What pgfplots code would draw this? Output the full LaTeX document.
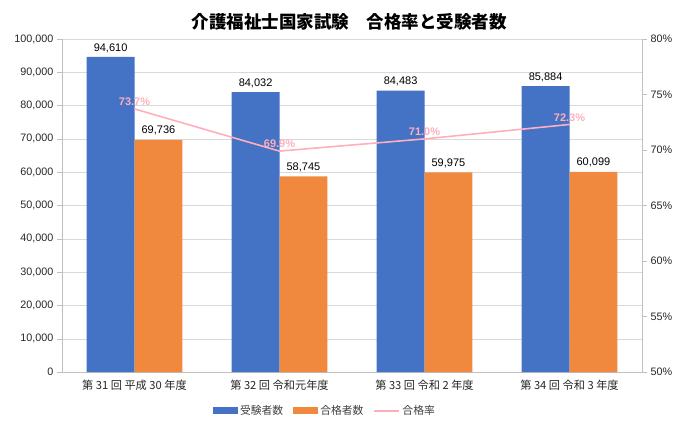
\documentclass[border=0pt]{standalone}
\usepackage{pgfplots}
\pgfplotsset{compat=1.18}
\usepackage{fontspec}
\setmainfont{Liberation Sans}
\newfontfamily\cjk{Noto Sans CJK JP}

\definecolor{cblue}{HTML}{4472C4}
\definecolor{corange}{HTML}{F0883E}
\definecolor{cpink}{HTML}{FFAEBC}
\definecolor{cgrid}{HTML}{D9D9D9}
\definecolor{caxis}{HTML}{BFBFBF}

\pgfplotsset{
  barlegend/.style={legend image code/.code={\fill[##1] (0pt,-3.5pt) rectangle (25pt,3.5pt);}},
  linelegend/.style={legend image code/.code={\draw[##1] (0pt,0pt) -- (25pt,0pt);}},
  common/.style={
    width=580pt, height=333pt, scale only axis,
    at={(62pt,59pt)}, anchor=south west,
    xmin=-0.5, xmax=3.5,
    tick label style={font=\fontsize{10.8}{13}\selectfont, text=black!85},
    major tick length=5pt,
    tick style={caxis, thin},
  },
}

\begin{document}
\begin{tikzpicture}[x=1pt,y=1pt]
\useasboundingbox (0,0) rectangle (698,431);

\begin{axis}[
  common,
  ybar=0pt, bar width=0.33,
  ymin=0, ymax=100000, ytick={0,10000,...,100000},
  scaled y ticks=false,
  /pgf/number format/fixed,
  /pgf/number format/precision=0,
  /pgf/number format/1000 sep={,},
  /pgf/number format/assume math mode=true,
  axis y line*=left,
  axis x line*=bottom,
  axis line style={caxis},
  y axis line style={-}, x axis line style={-},
  tick align=outside,
  ymajorgrids, grid style={cgrid},
  xtick={0,1,2,3},
  xticklabels={{\cjk 第 31 回 平成 30 年度},{\cjk 第 32 回 令和元年度},{\cjk 第 33 回 令和 2 年度},{\cjk 第 34 回 令和 3 年度}},
  x tick label style={font=\fontsize{11.2}{13}\selectfont},
  x tick style={draw=none},
  extra x ticks={0.5,1.5,2.5},
  extra x tick labels={},
  extra x tick style={tick style={caxis, thin}, major tick length=5pt, grid=none},
  nodes near coords,
  every node near coord/.append style={font=\fontsize{11}{13}\selectfont, text=black, yshift=1pt},
  legend columns=3,
  legend style={at={(0.4534,-0.117)}, anchor=center, draw=none,
    font=\cjk\fontsize{10.8}{13}\selectfont, text=black!75,
    /tikz/every even column/.append style={column sep=8pt}},
]
\addplot[fill=cblue, draw=none, barlegend] coordinates {(0,94610) (1,84032) (2,84483) (3,85884)};
\addlegendentry{受験者数}
\addplot[fill=corange, draw=none, barlegend] coordinates {(0,69736) (1,58745) (2,59975) (3,60099)};
\addlegendentry{合格者数}
\addlegendimage{cpink, line width=2pt, linelegend}
\addlegendentry{合格率}
\end{axis}

\begin{axis}[
  common,
  ymin=50, ymax=80, ytick={50,55,...,80},
  axis y line*=right,
  axis x line=none,
  axis line style={caxis},
  y axis line style={-},
  tick align=outside,
  yticklabel={\pgfmathprintnumber[fixed,precision=0]{\tick}\%},
  /pgf/number format/assume math mode=true,
]
\addplot[cpink, line width=1.6pt, mark=none,
  nodes near coords={\pgfmathprintnumber[fixed,fixed zerofill,precision=1]{\pgfplotspointmeta}\%},
  every node near coord/.append style={font=\bfseries\fontsize{11}{13}\selectfont, text=cpink, anchor=south, yshift=-1pt},
] coordinates {(0,73.7) (1,69.9) (2,71.0) (3,72.3)};
\end{axis}

\node[font=\cjk\bfseries\fontsize{17.5}{20}\selectfont] at (349,409) {介護福祉士国家試験　合格率と受験者数};
\end{tikzpicture}
\end{document}
